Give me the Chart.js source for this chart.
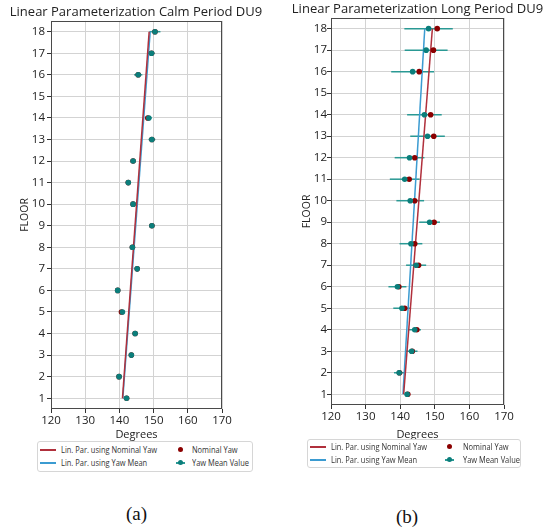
<!DOCTYPE html>
<html>
<head>
<meta charset="utf-8">
<script src="https://cdn.jsdelivr.net/npm/chart.js@4.4.0/dist/chart.umd.min.js"></script>
<style>
  body { margin: 0; background: #fff; width: 544px; height: 531px; position: relative; overflow: hidden; font-family: "Open Sans", sans-serif; }
  .wrap { position: absolute; top: 0; height: 445px; }
  .legend { position: absolute; border: 1px solid #d6d6d6; border-radius: 3px; background: #fff; }
  .item { position: absolute; height: 10px; }
  .item span { position: absolute; left: 21px; top: -2px; font-size: 9px; line-height: 13px; color: #333; white-space: nowrap; transform: scaleX(0.83); transform-origin: left; }
  .swatch { position: absolute; left: 0; top: 4px; width: 16px; height: 1.5px; }
  .dot { position: absolute; width: 5px; height: 5px; border-radius: 50%; top: 2px; left: 3px; }
  .caption { position: absolute; font-family: "Liberation Serif", serif; font-size: 19px; color: #111; }
</style>
</head>
<body>
<div class="wrap" style="left:0; width:272px"><canvas id="calm"></canvas></div>
<div class="wrap" style="left:272px; width:291px"><canvas id="long"></canvas></div>
<div class="caption" style="left:126px; top:503px">(a)</div>
<div class="caption" style="left:396px; top:506px">(b)</div>

<script>
// floors that have measurements (no 15)
const floors = [1, 2, 3, 4, 5, 6, 7, 8, 9, 10, 11, 12, 13, 14, 16, 17, 18];
const floorTicks = [1, 2, 3, 4, 5, 6, 7, 8, 9, 10, 11, 12, 13, 14, 15, 16, 17, 18];
const degreeTicks = [120, 130, 140, 150, 160, 170];

// (a) calm period
const calmMean    = [142.1, 139.9, 143.5, 144.6, 140.9, 139.5, 145.2, 143.8, 149.5, 144.0, 142.6, 144.0, 149.5, 148.6, 145.5, 149.4, 150.4];
const calmNominal = [142.1, 139.9, 143.5, 144.6, 140.6, 139.5, 145.2, 143.8, 149.5, 144.0, 142.6, 144.0, 149.5, 148.3, 145.5, 149.4, 150.4];
const calmErr     = [0.5, 0.6, 0.5, 0.6, 0.7, 0.6, 0.6, 0.5, 0.7, 0.6, 0.7, 0.7, 1.0, 0.9, 1.2, 0.9, 1.6];
const calmFitNominal = [140.9, 148.7];
const calmFitMean    = [141.0, 149.0];

// (b) long period
const longMean    = [142.0, 139.7, 143.3, 144.2, 140.5, 139.2, 144.6, 143.1, 148.5, 142.9, 141.3, 142.7, 147.9, 147.0, 143.6, 147.5, 148.2];
const longNominal = [142.2, 139.8, 143.5, 144.8, 141.3, 139.6, 145.3, 144.2, 149.8, 144.2, 142.6, 144.2, 149.7, 148.8, 145.5, 149.6, 150.7];
const longErr     = [0.7, 1.5, 1.7, 1.8, 2.5, 2.6, 2.9, 3.3, 3.0, 4.0, 4.3, 4.3, 5.0, 5.0, 6.2, 6.2, 7.0];
const longFitNominal = [141.0, 149.3];
const longFitMean    = [140.8, 147.1];

const fitFloors = [1, 18];
const legendLabels = ['Lin. Par. using Nominal Yaw', 'Lin. Par. using Yaw Mean', 'Nominal Yaw', 'Yaw Mean Value'];

const RED_LINE = '#b0303c', BLUE_LINE = '#3b9bd1', RED_DOT = '#8b0000', TEAL = '#0b7e7b', TEAL_BAR = '#2a9994';
const FONT = 'Open Sans';

const pts = (xs, ys) => xs.map((x, i) => ({ x: x, y: ys[i] }));

// box around the axes
const frame = {
  id: 'frame',
  afterDraw(chart) {
    const { ctx, chartArea: a } = chart;
    ctx.save();
    ctx.strokeStyle = '#4a4a4a';
    ctx.lineWidth = 1;
    ctx.strokeRect(Math.round(a.left) + 0.5, Math.round(a.top) + 0.5, Math.round(a.width) - 1, Math.round(a.height) - 1);
    ctx.restore();
  }
};

function makeChart(id, c) {
  const datasets = [];
  // error bars, one small segment per floor
  floors.forEach((f, i) => {
    datasets.push({
      data: [{ x: c.mean[i] - c.err[i], y: f }, { x: c.mean[i] + c.err[i], y: f }],
      showLine: true, borderColor: TEAL_BAR, borderWidth: 1.5, pointRadius: 0, order: 3
    });
  });
  datasets.push({ label: legendLabels[0], data: pts(c.fitNominal, fitFloors), showLine: true,
    borderColor: RED_LINE, borderWidth: 1.5, pointRadius: 0, order: 2 });
  datasets.push({ label: legendLabels[1], data: pts(c.fitMean, fitFloors), showLine: true,
    borderColor: BLUE_LINE, borderWidth: 1.5, pointRadius: 0, order: 2 });
  datasets.push({ label: legendLabels[2], data: pts(c.nominal, floors), pointRadius: 2.8,
    backgroundColor: RED_DOT, borderColor: RED_DOT, borderWidth: 0, order: 1 });
  datasets.push({ label: legendLabels[3], data: pts(c.mean, floors), pointRadius: 2.8,
    backgroundColor: TEAL, borderColor: TEAL, borderWidth: 0, order: 0 });

  return new Chart(document.getElementById(id), {
    type: 'scatter',
    data: { datasets: datasets },
    options: {
      responsive: true,
      maintainAspectRatio: false,
      animation: false,
      layout: { padding: 0 },
      plugins: {
        legend: { display: false },
        tooltip: { enabled: false },
        title: {
          display: true, text: c.title, color: '#222',
          font: { family: FONT, size: 13, weight: 'normal', lineHeight: 1.3 },
          padding: { top: c.titlePad, bottom: 0 }
        }
      },
      scales: {
        x: {
          type: 'linear', min: 120, max: 170,
          afterBuildTicks: s => { s.ticks = degreeTicks.map(v => ({ value: v })); },
          afterFit: s => { s.height = c.xHeight; },
          ticks: { color: '#222', font: { family: FONT, size: 11.5 }, padding: 1, maxRotation: 0 },
          grid: { color: '#d3d3d3', tickColor: '#333', tickLength: 4 },
          border: { display: false },
          title: { display: true, text: 'Degrees', color: '#222', font: { family: FONT, size: 11 }, padding: { top: c.xTitlePad } }
        },
        y: {
          type: 'linear', min: 0.5, max: 18.5,
          afterBuildTicks: s => { s.ticks = floorTicks.map(v => ({ value: v })); },
          afterFit: s => { s.width = c.yWidth; },
          ticks: { color: '#222', font: { family: FONT, size: 11.5 }, padding: c.yTickPad, autoSkip: false },
          grid: { color: '#d3d3d3', tickColor: '#333', tickLength: 4 },
          border: { display: false },
          title: { display: true, text: 'FLOOR', color: '#222', font: { family: FONT, size: 10.5 }, padding: { top: c.yTitlePad } }
        },
        // empty right-hand strip so the title stays centred over the plot
        side: {
          position: 'right', display: true,
          afterFit: s => { s.width = c.padRight; },
          ticks: { display: false }, grid: { display: false }, border: { display: false }
        }
      }
    },
    plugins: [frame]
  });
}

makeChart('calm', {
  title: 'Linear Parameterization Calm Period DU9',
  mean: calmMean, nominal: calmNominal, err: calmErr,
  fitNominal: calmFitNominal, fitMean: calmFitMean,
  padRight: 50, titlePad: 4, xHeight: 36, yWidth: 51, xTitlePad: 4, yTitlePad: 19, yTickPad: 2
});
makeChart('long', {
  title: 'Linear Parameterization Long Period DU9',
  mean: longMean, nominal: longNominal, err: longErr,
  fitNominal: longFitNominal, fitMean: longFitMean,
  padRight: 59, titlePad: 1, xHeight: 40, yWidth: 59, xTitlePad: 9, yTitlePad: 29, yTickPad: 0
});

// matplotlib-style legend boxes (two columns) under each panel
function makeLegend(box) {
  const el = document.createElement('div');
  el.className = 'legend';
  Object.assign(el.style, { left: box.left + 'px', top: box.top + 'px', width: box.w + 'px', height: box.h + 'px' });
  const handles = [
    { kind: 'line', color: RED_LINE }, { kind: 'line', color: BLUE_LINE },
    { kind: 'dot', color: RED_DOT }, { kind: 'bar', color: TEAL }
  ];
  legendLabels.forEach((label, i) => {
    const it = document.createElement('div');
    it.className = 'item';
    const col = i < 2 ? box.col1 : box.col2;
    it.style.left = col + 'px';
    it.style.top = (i % 2 === 0 ? box.row1 : box.row2) + 'px';
    const h = handles[i];
    let html = '';
    if (h.kind === 'line') html = `<div class="swatch" style="background:${h.color}"></div>`;
    if (h.kind === 'dot') html = `<div class="dot" style="background:${h.color};left:${box.dotX}px"></div>`;
    if (h.kind === 'bar') html = `<div class="swatch" style="background:${TEAL_BAR};left:${box.dotX - 2}px;width:9px"></div><div class="dot" style="background:${h.color};left:${box.dotX}px"></div>`;
    html += `<span style="left:${i < 2 ? 21 : box.textX}px">${label}</span>`;
    it.innerHTML = html;
    el.appendChild(it);
  });
  document.body.appendChild(el);
}

makeLegend({ left: 37, top: 441, w: 214, h: 29, col1: 2, col2: 130, row1: 3, row2: 16, dotX: 10, textX: 24 });
makeLegend({ left: 307, top: 439, w: 212, h: 27, col1: 2, col2: 130, row1: 2, row2: 15, dotX: 9, textX: 25 });
</script>
</body>
</html>
